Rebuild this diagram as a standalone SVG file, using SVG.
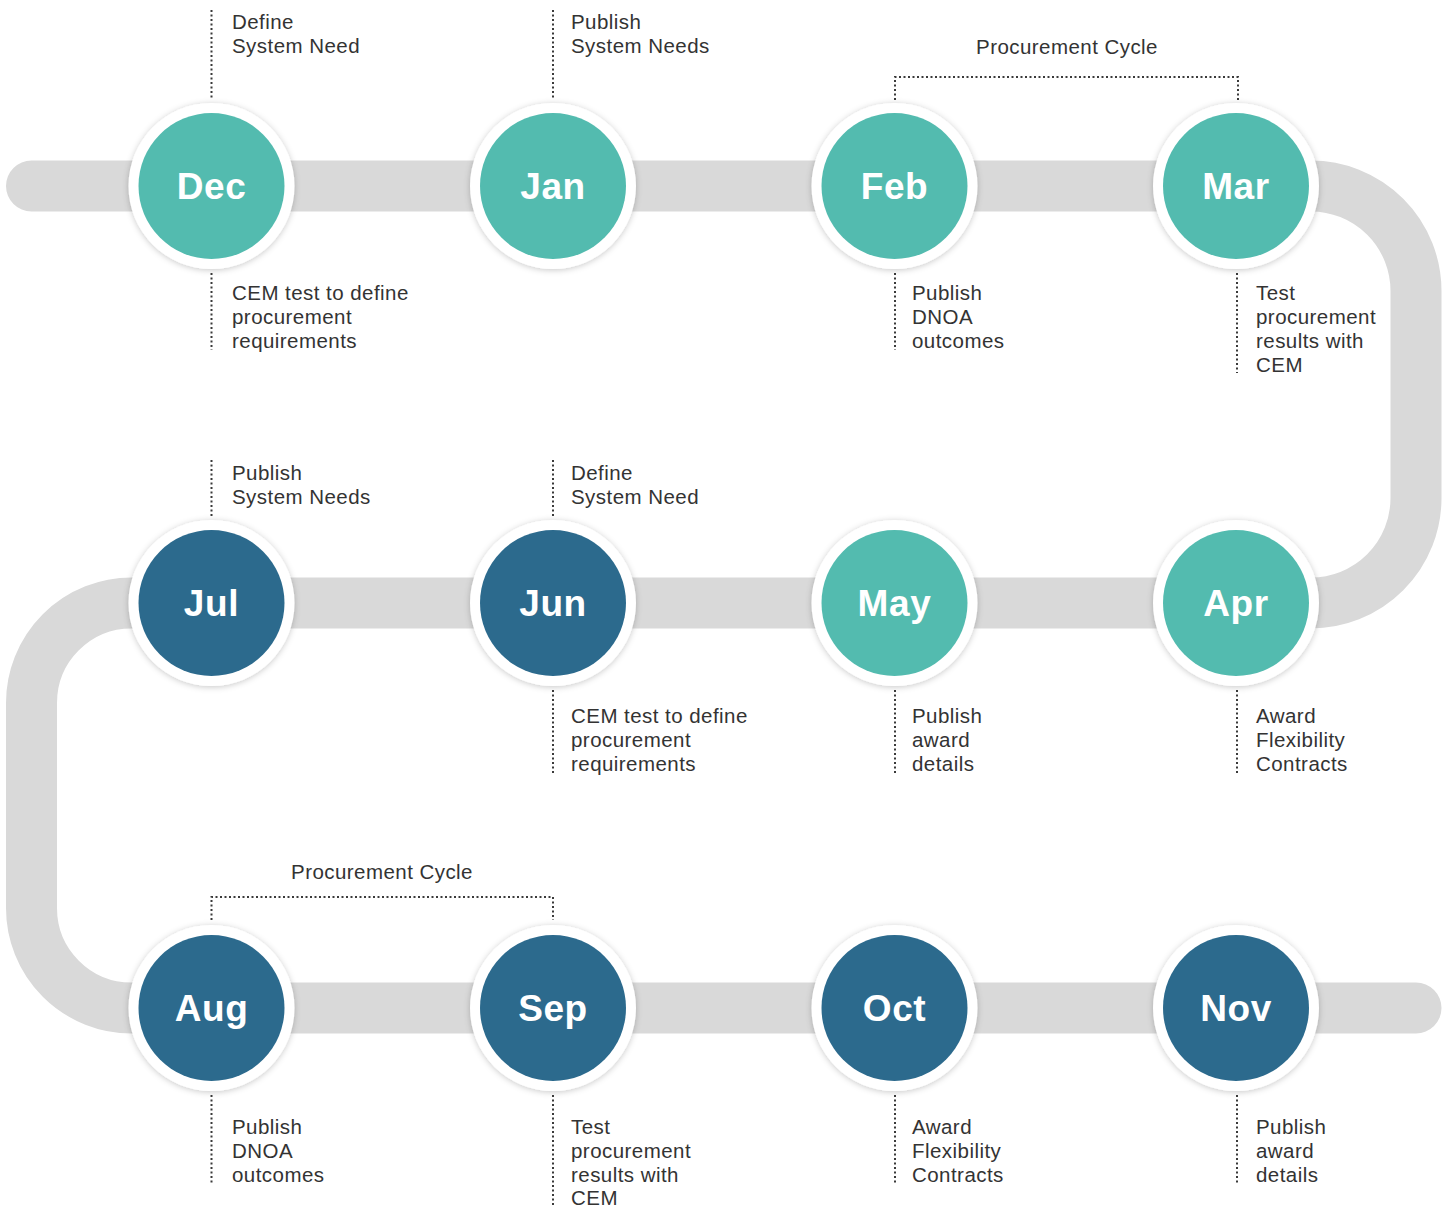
<svg xmlns="http://www.w3.org/2000/svg" width="1450" height="1207" viewBox="0 0 1450 1207">
<style>
.track{fill:none;stroke:#d9d9d9;stroke-width:51;stroke-linecap:round;stroke-linejoin:round}
.ring{fill:#fff;filter:url(#sh)}
.teal{fill:#53bbaf}
.blue{fill:#2c6a8d}
.m{font-family:"Liberation Sans",Arial,sans-serif;font-weight:bold;font-size:37px;letter-spacing:0.6px;fill:#fff;text-anchor:middle}
.t{font-family:"Liberation Sans",Arial,sans-serif;font-size:20.5px;letter-spacing:0.45px;fill:#333}
.dot{fill:none;stroke:#3a3a3a;stroke-width:2;stroke-dasharray:2 2.5}
</style>
<defs>
<filter id="sh" x="-20%" y="-20%" width="140%" height="140%">
<feDropShadow dx="0" dy="1" stdDeviation="3" flood-color="#000" flood-opacity="0.22"/>
</filter>
</defs>
<g id="connectors">
<path class="track" d="M31.5 186 H1311 A105 105 0 0 1 1416 291 V498 A105 105 0 0 1 1311 603 H131.5 A100 100 0 0 0 31.5 703 V908 A100 100 0 0 0 131.5 1008 H1416"/>
<path class="dot" d="M211.5 10 V100 M211.5 273 V350"/>
<path class="dot" d="M553 10 V100"/>
<path class="dot" d="M895 100 V77 H1238 V100"/>
<path class="dot" d="M895 273 V350"/>
<path class="dot" d="M1237 273 V373"/>
<path class="dot" d="M211.5 460 V518"/>
<path class="dot" d="M553 460 V518 M553 690 V773"/>
<path class="dot" d="M895 690 V773"/>
<path class="dot" d="M1237 690 V773"/>
<path class="dot" d="M211.5 920 V897 H553 V920"/>
<path class="dot" d="M211.5 1095 V1183"/>
<path class="dot" d="M553 1095 V1207"/>
<path class="dot" d="M895 1095 V1183"/>
<path class="dot" d="M1237 1095 V1183"/>
</g>
<g id="dec"><circle class="ring" cx="211.5" cy="186" r="83"/><circle class="teal" cx="211.5" cy="186" r="73"/><text class="m" x="211.5" y="199">Dec</text>
<text class="t" x="232" y="29">Define</text><text class="t" x="232" y="53">System Need</text>
<text class="t" x="232" y="300">CEM test to define</text><text class="t" x="232" y="324">procurement</text><text class="t" x="232" y="348">requirements</text></g>
<g id="jan"><circle class="ring" cx="553" cy="186" r="83"/><circle class="teal" cx="553" cy="186" r="73"/><text class="m" x="553" y="199">Jan</text>
<text class="t" x="571" y="29">Publish</text><text class="t" x="571" y="53">System Needs</text></g>
<g id="feb"><circle class="ring" cx="894.5" cy="186" r="83"/><circle class="teal" cx="894.5" cy="186" r="73"/><text class="m" x="894.5" y="199">Feb</text>
<text class="t" x="912" y="300">Publish</text><text class="t" x="912" y="324">DNOA</text><text class="t" x="912" y="348">outcomes</text></g>
<g id="mar"><circle class="ring" cx="1236" cy="186" r="83"/><circle class="teal" cx="1236" cy="186" r="73"/><text class="m" x="1236" y="199">Mar</text>
<text class="t" x="1256" y="300">Test</text><text class="t" x="1256" y="324">procurement</text><text class="t" x="1256" y="348">results with</text><text class="t" x="1256" y="372">CEM</text></g>
<g id="procurement-cycle-1"><text class="t" x="1067" y="54" text-anchor="middle">Procurement Cycle</text></g>
<g id="apr"><circle class="ring" cx="1236" cy="603" r="83"/><circle class="teal" cx="1236" cy="603" r="73"/><text class="m" x="1236" y="616">Apr</text>
<text class="t" x="1256" y="723">Award</text><text class="t" x="1256" y="747">Flexibility</text><text class="t" x="1256" y="771">Contracts</text></g>
<g id="may"><circle class="ring" cx="894.5" cy="603" r="83"/><circle class="teal" cx="894.5" cy="603" r="73"/><text class="m" x="894.5" y="616">May</text>
<text class="t" x="912" y="723">Publish</text><text class="t" x="912" y="747">award</text><text class="t" x="912" y="771">details</text></g>
<g id="jun"><circle class="ring" cx="553" cy="603" r="83"/><circle class="blue" cx="553" cy="603" r="73"/><text class="m" x="553" y="616">Jun</text>
<text class="t" x="571" y="480">Define</text><text class="t" x="571" y="504">System Need</text>
<text class="t" x="571" y="723">CEM test to define</text><text class="t" x="571" y="747">procurement</text><text class="t" x="571" y="771">requirements</text></g>
<g id="jul"><circle class="ring" cx="211.5" cy="603" r="83"/><circle class="blue" cx="211.5" cy="603" r="73"/><text class="m" x="211.5" y="616">Jul</text>
<text class="t" x="232" y="480">Publish</text><text class="t" x="232" y="504">System Needs</text></g>
<g id="aug"><circle class="ring" cx="211.5" cy="1008" r="83"/><circle class="blue" cx="211.5" cy="1008" r="73"/><text class="m" x="211.5" y="1021">Aug</text>
<text class="t" x="232" y="1134">Publish</text><text class="t" x="232" y="1158">DNOA</text><text class="t" x="232" y="1182">outcomes</text></g>
<g id="procurement-cycle-2"><text class="t" x="382" y="879" text-anchor="middle">Procurement Cycle</text></g>
<g id="sep"><circle class="ring" cx="553" cy="1008" r="83"/><circle class="blue" cx="553" cy="1008" r="73"/><text class="m" x="553" y="1021">Sep</text>
<text class="t" x="571" y="1134">Test</text><text class="t" x="571" y="1158">procurement</text><text class="t" x="571" y="1182">results with</text><text class="t" x="571" y="1205">CEM</text></g>
<g id="oct"><circle class="ring" cx="894.5" cy="1008" r="83"/><circle class="blue" cx="894.5" cy="1008" r="73"/><text class="m" x="894.5" y="1021">Oct</text>
<text class="t" x="912" y="1134">Award</text><text class="t" x="912" y="1158">Flexibility</text><text class="t" x="912" y="1182">Contracts</text></g>
<g id="nov"><circle class="ring" cx="1236" cy="1008" r="83"/><circle class="blue" cx="1236" cy="1008" r="73"/><text class="m" x="1236" y="1021">Nov</text>
<text class="t" x="1256" y="1134">Publish</text><text class="t" x="1256" y="1158">award</text><text class="t" x="1256" y="1182">details</text></g>
</svg>
